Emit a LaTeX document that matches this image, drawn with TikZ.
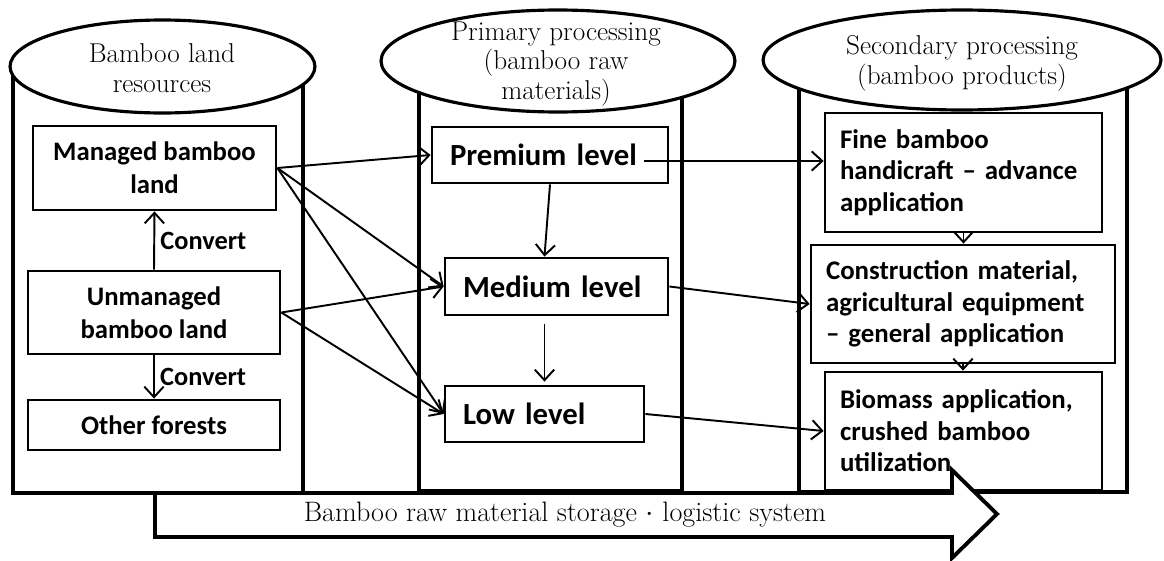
\documentclass[tikz,border=0pt]{standalone}
\usepackage{fontspec}
\usetikzlibrary{arrows.meta,shapes,calc}
\newfontfamily\boxfont[Ligatures=TeX]{Carlito}

\begin{document}
\begin{tikzpicture}[x=0.02cm,y=-0.02cm,
  wall/.style={line width=2.8pt},
  lid/.style={ellipse,draw,fill=white,line width=1.8pt,inner sep=0pt},
  lidtext/.style={align=center,font=\fontsize{15.5}{17}\selectfont},
  landbox/.style={draw,line width=1.6pt,align=center,inner sep=0pt,font=\boxfont\bfseries\fontsize{15.2}{19}\selectfont},
  levelbox/.style={draw,line width=1.6pt,align=left,inner xsep=0.36cm,inner ysep=0pt,font=\boxfont\bfseries\fontsize{17.5}{20}\selectfont},
  prodbox/.style={draw,line width=1.6pt,align=left,inner xsep=0.3cm,inner ysep=0pt,font=\boxfont\bfseries\fontsize{15.3}{18}\selectfont},
  flow/.style={line width=1.1pt,-{Straight Barb[length=6pt,width=11pt]}},
  cvt/.style={font=\boxfont\bfseries\fontsize{15}{17}\selectfont,inner sep=3pt}]
\useasboundingbox (0,0) rectangle (1164,561);
% the three cylinders
\draw[wall] (13,66) -- (13,493) -- (303,493) -- (303,66);
\draw[wall] (419,60) -- (419,491) -- (682,491) -- (682,60);
\draw[wall] (799,60) -- (799,492) -- (1127,492) -- (1127,60);
\draw (162.5,66.5) node (landlid) [lid, minimum width=6.1cm, minimum height=1.86cm] {};
\draw (558,61) node (rawlid) [lid, minimum width=7.08cm, minimum height=2.04cm] {};
\draw (962,60) node (prodlid) [lid, minimum width=7.96cm, minimum height=2cm] {};
\draw (162,68) node (landtxt) [lidtext] {Bamboo land\\resources};
\draw (556,64) node (rawtxt) [lidtext] {Primary processing\\(bamboo raw\\materials)};
\draw (962,63) node (prodtxt) [lidtext] {Secondary processing\\(bamboo products)};
% bamboo land
\draw (154.5,168) node (managed) [landbox, minimum width=4.86cm, minimum height=1.68cm] {Managed bamboo\\land};
\draw (154,312.5) node (unmanaged) [landbox, minimum width=5.04cm, minimum height=1.66cm] {Unmanaged\\bamboo land};
\draw (154,425) node (otherfor) [landbox, minimum width=5.04cm, minimum height=1cm] {Other forests};
% raw materials
\draw (550,155) node (premium) [levelbox, text width=4cm, minimum height=1.12cm] {Premium level};
\draw (556.5,286.5) node (medium) [levelbox, text width=3.74cm, minimum height=1.14cm] {Medium level};
\draw (544.5,414) node (low) [levelbox, text width=3.26cm, minimum height=1.12cm] {Low level};
% products
\draw (963.5,172.5) node (fine) [prodbox, text width=4.94cm, minimum height=2.38cm] {Fine bamboo\\handicraft -- advance\\application};
\draw (963,304) node (constr) [prodbox, text width=5.48cm, minimum height=2.36cm] {Construction material,\\agricultural equipment\\-- general application};
\draw (963.5,431) node (biomass) [prodbox, text width=4.94cm, minimum height=2.36cm] {Biomass application,\\crushed bamboo\\utilization};
% convert
\draw[flow] (unmanaged.north) -- node[cvt, right] {Convert} (managed.south);
\draw[flow] (unmanaged.south) -- node[cvt, right] {Convert} (otherfor.north);
% land -> raw
\draw[flow] (managed.east) -- (premium.west);
\draw[flow] (managed.east) -- (medium.west);
\draw[flow] (managed.east) -- (low.west);
\draw[flow] (unmanaged.east) -- (medium.west);
\draw[flow] (unmanaged.east) -- (low.west);
\draw[flow] (premium.south) -- (low.north |- medium.north);
\draw[flow, shorten <=0.15cm, shorten >=0.06cm] (low.north |- medium.south) -- (low.north);
% raw -> products
\coordinate (premout) at ([xshift=-0.5cm,yshift=-0.12cm]premium.east);
\draw[flow] (premout) -- (premout -| fine.west);
\draw[flow] (medium.east) -- (constr.west);
\draw[flow] (low.east) -- (biomass.west);
\draw[flow] (fine.south) -- (constr.north -| fine.south);
\draw[flow] (constr.south) -- (biomass.north -| constr.south);
% storage arrow
\draw[line width=2.2pt, fill=white] (155,493) -- (952,493) -- (952,470) -- (997,514) -- (952,558) -- (952,537) -- (155,537) -- cycle;
\draw (565,515) node (logistic) [font=\fontsize{16}{18}\selectfont] {Bamboo raw material storage\ $\cdot$\ logistic system};
\end{tikzpicture}
\end{document}
